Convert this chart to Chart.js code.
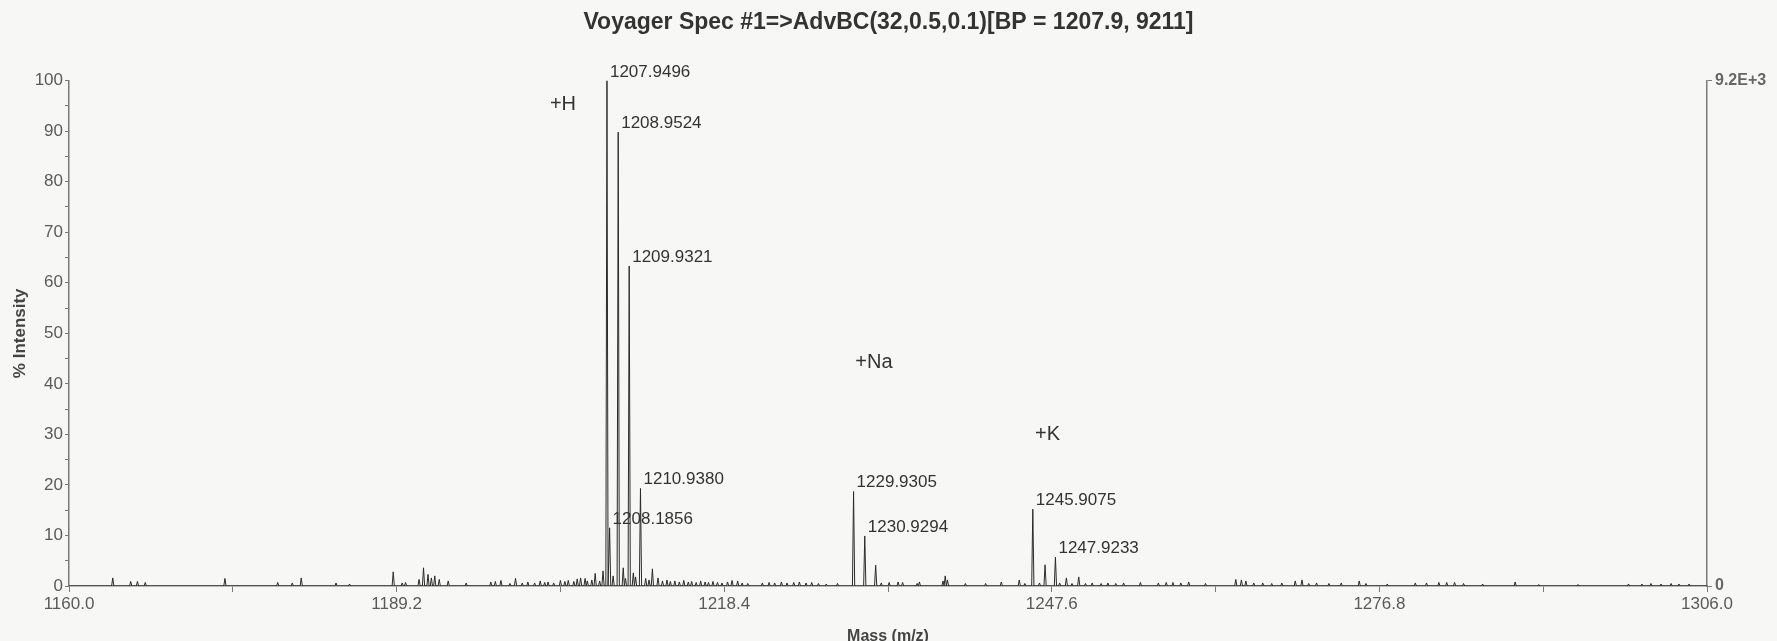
<!DOCTYPE html>
<html>
<head>
<meta charset="utf-8">
<script src="https://cdn.jsdelivr.net/npm/chart.js@4.4.1/dist/chart.umd.min.js"></script>
<style>
    html, body { margin: 0; padding: 0; background: #f7f7f5; }
    #wrap { width: 1777px; height: 641px; position: relative; }
</style>
</head>
<body>
<div id="wrap"><canvas id="spec"></canvas></div>
<script>
// Peak list (m/z, % intensity)
const peakMass = [
    1163.9, 1165.5, 1166.1, 1166.8, 1173.9, 1178.6, 1179.9, 1180.7, 1183.8, 1185.0,
    1188.9, 1189.7, 1190.0, 1191.2, 1191.6, 1192.0, 1192.3, 1192.6, 1193.0, 1193.8,
    1195.4, 1197.6, 1198.0, 1198.5, 1199.3, 1199.8, 1200.4, 1200.9, 1201.5, 1202.0,
    1202.4, 1202.7, 1203.2, 1203.8, 1204.2, 1204.5, 1205.0, 1205.3, 1205.6, 1206.0,
    1206.2, 1206.6, 1206.9, 1207.3, 1207.6, 1207.9496, 1208.1856, 1208.5, 1208.9524, 1209.4,
    1209.6, 1209.9321, 1210.3, 1210.5, 1210.938, 1211.4, 1211.7, 1212.0, 1212.5, 1212.9,
    1213.3, 1213.6, 1214.0, 1214.4, 1214.8, 1215.2, 1215.5, 1215.9, 1216.3, 1216.7,
    1217.0, 1217.4, 1217.8, 1218.2, 1218.7, 1219.1, 1219.6, 1220.0, 1220.5, 1221.8,
    1222.4, 1222.9, 1223.5, 1224.0, 1224.6, 1225.1, 1225.7, 1226.2, 1226.8, 1227.5,
    1228.5, 1229.9305, 1230.9294, 1231.9, 1232.4, 1233.1, 1233.9, 1234.3, 1235.6, 1235.8,
    1237.9, 1238.1, 1238.3, 1239.9, 1241.7, 1243.1, 1244.7, 1245.2, 1245.9075, 1246.5,
    1247.0, 1247.9233, 1248.3, 1248.9, 1249.4, 1250.0, 1250.6, 1251.2, 1252.0, 1252.6,
    1253.3, 1254.0, 1255.5, 1257.1, 1257.8, 1258.4, 1259.1, 1259.8, 1261.3, 1264.0,
    1264.5, 1264.9, 1265.6, 1266.4, 1267.2, 1268.1, 1269.3, 1269.9, 1270.5, 1271.2,
    1272.3, 1273.4, 1275.0, 1275.6, 1277.5, 1280.0, 1281.0, 1282.1, 1282.8, 1283.5,
    1284.3, 1286.0, 1288.9, 1291.0, 1294.5, 1299.0, 1300.2, 1301.0, 1301.9, 1302.8,
    1303.5, 1304.4
];
const peakIntensity = [
    1.6, 0.9, 0.9, 0.7, 1.5, 0.7, 0.6, 1.6, 0.6, 0.4,
    2.8, 0.6, 0.7, 1.3, 3.6, 2.3, 1.6, 2.0, 1.3, 1.0,
    0.6, 0.8, 0.9, 1.1, 0.5, 1.5, 0.6, 0.8, 0.6, 1.0,
    0.7, 0.8, 0.6, 1.1, 0.9, 1.1, 0.9, 1.4, 1.6, 1.5,
    1.0, 1.2, 2.5, 1.0, 3.0, 100, 11.5, 2.0, 89.8, 3.6,
    1.5, 63.3, 2.6, 1.8, 19.3, 1.5, 1.2, 3.4, 1.6, 1.0,
    1.2, 0.9, 1.0, 0.8, 1.1, 0.8, 0.9, 0.7, 1.0, 0.8,
    0.7, 0.9, 0.7, 0.6, 0.8, 1.1, 1.0, 0.6, 0.5, 0.6,
    0.7, 0.6, 0.8, 0.6, 0.7, 0.8, 0.6, 0.7, 0.5, 0.4,
    0.5, 18.7, 9.9, 4.1, 0.6, 0.7, 0.8, 0.7, 0.5, 0.8,
    1.0, 2.0, 1.2, 0.5, 0.5, 0.8, 1.2, 0.5, 15.2, 0.6,
    4.2, 5.7, 0.6, 1.6, 0.5, 1.8, 0.5, 0.6, 0.5, 0.6,
    0.5, 0.6, 0.7, 0.6, 0.7, 0.7, 0.6, 0.8, 0.5, 1.3,
    1.2, 1.0, 0.6, 0.6, 0.5, 0.6, 1.0, 1.2, 0.5, 0.6,
    0.5, 0.6, 1.0, 0.5, 0.4, 0.6, 0.6, 0.7, 0.7, 0.7,
    0.5, 0.4, 0.8, 0.3, 0.3, 0.4, 0.4, 0.5, 0.4, 0.5,
    0.4, 0.4
];

// Peaks that carry an m/z label
const labelMass = [1207.9496, 1208.9524, 1209.9321, 1210.938, 1208.1856, 1229.9305, 1230.9294, 1245.9075, 1247.9233];

// Adduct annotations (placed in data units)
const adductLabels = ['+H', '+Na', '+K'];
const adductMass = [1204.03, 1231.75, 1247.22];
const adductIntensity = [95.2, 44.3, 29.9];

// Axis ticks
const xMajorTicks = [1160.0, 1189.2, 1218.4, 1247.6, 1276.8, 1306.0];
const xMinorTicks = [1174.6, 1203.8, 1233.0, 1262.2, 1291.4];
const xTickLabels = ['1160.0', '1189.2', '1218.4', '1247.6', '1276.8', '1306.0'];
const yMajorTicks = [0, 10, 20, 30, 40, 50, 60, 70, 80, 90, 100];
const yMinorTicks = [5, 15, 25, 35, 45, 55, 65, 75, 85, 95];
const rightTickLabels = ['0', '9.2E+3'];

const FONT = '"Liberation Sans", Arial, sans-serif';
const AXIS_GREY = '#7a7a7a';
const HALF_WIDTH = 0.1; // stick half-width in m/z

// Build stick spectrum for the line dataset
const spectrum = [{ x: 1160, y: 0 }];
peakMass.forEach((m, i) => {
    spectrum.push({ x: m - HALF_WIDTH, y: 0 }, { x: m, y: peakIntensity[i] }, { x: m + HALF_WIDTH, y: 0 });
});
spectrum.push({ x: 1306, y: 0 });

const peakLabels = {
    id: 'peakLabels',
    afterDatasetsDraw(chart) {
        const { ctx, scales: { x, y } } = chart;
        ctx.save();
        ctx.fillStyle = '#333';
        ctx.font = '17px ' + FONT;
        ctx.textAlign = 'left';
        ctx.textBaseline = 'alphabetic';
        labelMass.forEach(m => {
            const h = peakIntensity[peakMass.indexOf(m)];
            ctx.fillText(m.toFixed(4), x.getPixelForValue(m) + 3, y.getPixelForValue(h) - 4);
        });

        ctx.font = '20px ' + FONT;
        ctx.textAlign = 'center';
        ctx.textBaseline = 'middle';
        adductLabels.forEach((t, i) => {
            ctx.fillText(t, x.getPixelForValue(adductMass[i]), y.getPixelForValue(adductIntensity[i]));
        });
        ctx.restore();
    }
};

const sortNum = (a, b) => a - b;

new Chart(document.getElementById('spec'), {
    type: 'line',
    data: {
        datasets: [{
            data: spectrum,
            borderColor: '#2b2b2b',
            borderWidth: 1,
            pointRadius: 0,
            tension: 0,
            fill: false
        }]
    },
    options: {
        responsive: true,
        maintainAspectRatio: false,
        animation: false,
        layout: { padding: 0 },
        plugins: {
            legend: { display: false },
            tooltip: { enabled: false },
            title: {
                display: true,
                text: 'Voyager Spec #1=>AdvBC(32,0.5,0.1)[BP = 1207.9, 9211]',
                color: '#333',
                font: { family: FONT, size: 23, weight: 'bold', lineHeight: 1.2 },
                padding: { top: 9, bottom: 44 }
            }
        },
        scales: {
            x: {
                type: 'linear',
                min: 1160,
                max: 1306,
                afterBuildTicks: s => { s.ticks = xMajorTicks.concat(xMinorTicks).sort(sortNum).map(v => ({ value: v })); },
                afterFit: s => { s.height = 55; },
                ticks: {
                    autoSkip: false,
                    maxRotation: 0,
                    padding: 2,
                    color: '#5a5a5a',
                    font: { family: FONT, size: 17 },
                    callback: v => {
                        const i = xMajorTicks.findIndex(t => Math.abs(t - v) < 1e-6);
                        return i >= 0 ? xTickLabels[i] : '';
                    }
                },
                grid: { drawOnChartArea: false, tickLength: 6, color: AXIS_GREY },
                border: { color: AXIS_GREY, width: 1.5 },
                title: {
                    display: true,
                    text: 'Mass (m/z)',
                    color: '#444',
                    font: { family: FONT, size: 16, weight: 'bold', lineHeight: 1 },
                    padding: { top: 0, bottom: -4 }
                }
            },
            y: {
                type: 'linear',
                position: 'left',
                min: 0,
                max: 100,
                afterBuildTicks: s => { s.ticks = yMajorTicks.concat(yMinorTicks).sort(sortNum).map(v => ({ value: v })); },
                afterFit: s => { s.width = 69; },
                ticks: {
                    autoSkip: false,
                    padding: 2,
                    color: '#5a5a5a',
                    font: { family: FONT, size: 17 },
                    callback: v => yMajorTicks.includes(v) ? String(v) : ''
                },
                grid: { drawOnChartArea: false, tickLength: 4, color: AXIS_GREY },
                border: { color: AXIS_GREY, width: 1.5 },
                title: {
                    display: true,
                    text: '% Intensity',
                    color: '#444',
                    font: { family: FONT, size: 17, weight: 'bold', lineHeight: 1.2 },
                    padding: { top: 10, bottom: 0 }
                }
            },
            y2: {
                type: 'linear',
                position: 'right',
                min: 0,
                max: 100,
                afterBuildTicks: s => { s.ticks = [{ value: 0 }, { value: 100 }]; },
                afterFit: s => { s.width = 70; },
                ticks: {
                    autoSkip: false,
                    padding: 3,
                    color: '#666',
                    font: { family: FONT, size: 16, weight: 'bold' },
                    callback: v => v === 100 ? rightTickLabels[1] : rightTickLabels[0]
                },
                grid: { drawOnChartArea: false, tickLength: 5, color: AXIS_GREY },
                border: { color: AXIS_GREY, width: 1.5 }
            }
        }
    },
    plugins: [peakLabels]
});
</script>
</body>
</html>
